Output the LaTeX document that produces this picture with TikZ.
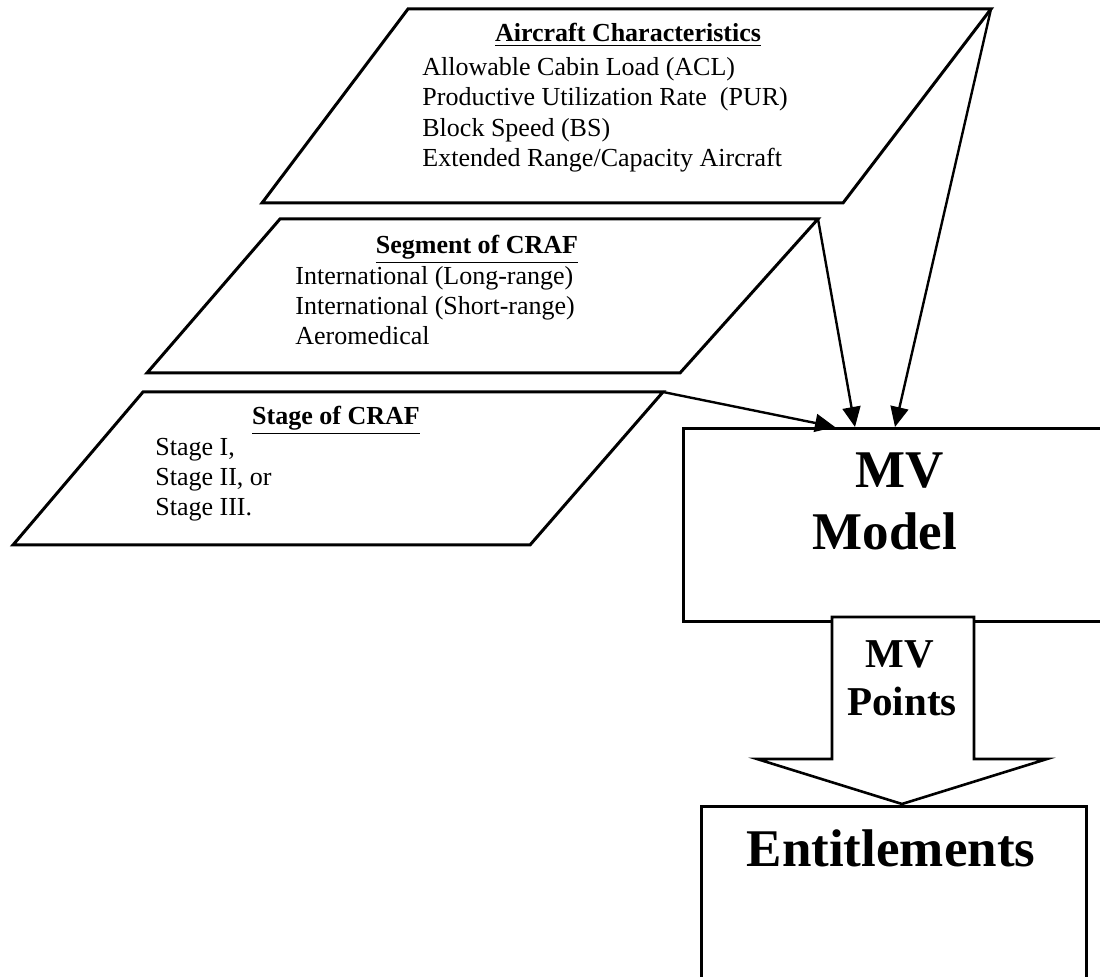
\documentclass[tikz,border=0pt]{standalone}
\usepackage{fontspec}
\setmainfont{Liberation Serif}
\usetikzlibrary{arrows.meta}
\begin{document}
\begin{tikzpicture}[x=0.5pt,y=-0.5pt,
  shapeline/.style={line width=1.5pt, line join=miter},
  conn/.style={line width=1.2pt, -{Triangle[length=10pt,width=9pt]}},
  item/.style={anchor=base west, inner sep=0pt, font=\fontsize{13}{15}\selectfont},
  ttl/.style={anchor=base, inner sep=0pt, font=\fontsize{13}{15}\selectfont\bfseries},
  big/.style={anchor=base, inner sep=0pt, font=\fontsize{26.5}{30}\selectfont\bfseries},
  mid/.style={anchor=base, inner sep=0pt, font=\fontsize{20.5}{24}\selectfont\bfseries},
  box/.style={draw, line width=1.3pt, inner sep=0pt, anchor=north west}]
\useasboundingbox (0,0) rectangle (1100,977);
\clip (0,0) rectangle (1100,977);

% corner coordinates of the input parallelograms
\coordinate (ac-tl) at (408,9);   \coordinate (ac-tr) at (991,9);
\coordinate (ac-br) at (843,203); \coordinate (ac-bl) at (262,203);
\coordinate (sg-tl) at (280,219); \coordinate (sg-tr) at (818,219);
\coordinate (sg-br) at (680,373); \coordinate (sg-bl) at (147,373);
\coordinate (st-tl) at (143,392); \coordinate (st-tr) at (663,392);
\coordinate (st-br) at (530,545); \coordinate (st-bl) at (13,545);

\draw[shapeline] (ac-tl) -- (ac-tr) -- (ac-br) -- (ac-bl) -- cycle;
\draw[shapeline] (sg-tl) -- (sg-tr) -- (sg-br) -- (sg-bl) -- cycle;
\draw[shapeline] (st-tl) -- (st-tr) -- (st-br) -- (st-bl) -- cycle;

% texts of the parallelograms
\node[ttl] (ac-title) at (628,42) {\underline{Aircraft Characteristics}};
\node[item] (ac-1) at (422,76) {Allowable Cabin Load (ACL)};
\node[item] (ac-2) at (422,106) {Productive Utilization Rate\ \ (PUR)};
\node[item] (ac-3) at (422,137) {Block Speed (BS)};
\node[item] (ac-4) at (422,167) {Extended Range/Capacity Aircraft};

\node[ttl] (sg-title) at (477,254) {\underline{Segment of CRAF}};
\node[item] (sg-1) at (295,285) {International (Long-range)};
\node[item] (sg-2) at (295,315) {International (Short-range)};
\node[item] (sg-3) at (295,345) {Aeromedical};

\node[ttl] (st-title) at (336,425) {\underline{Stage of CRAF}};
\node[item] (st-1) at (155,456) {Stage I,};
\node[item] (st-2) at (155,486) {Stage II, or};
\node[item] (st-3) at (155,516) {Stage III.};

% MV Model box
\node[box, minimum width=219pt, minimum height=96.5pt] (mv) at (682,427) {};
\node[big] (mv-t1) at (900,488) {MV};
\node[big] (mv-t2) at (885,550) {Model};

% connectors
\coordinate (in-st) at (835,427);
\coordinate (in-sg) at (855,427);
\coordinate (in-ac) at (895,427);
\draw[conn] (st-tr) -- (in-st);
\draw[conn] (sg-tr) -- (in-sg);
\draw[conn] (ac-tr) -- (in-ac);

% Entitlements box
\node[box, minimum width=192.5pt, minimum height=95pt] (ent) at (700,805) {};
\node[big] (ent-t) at (891,867) {Entitlements};

% block arrow MV Points
\draw[shapeline, line width=1.3pt, fill=white] (832,617) -- (974,617) -- (974,759) -- (1047,759)
  -- (902,804) -- (757,759) -- (832,759) -- cycle;
\node[mid] (pts-1) at (900,668) {MV};
\node[mid] (pts-2) at (902,716) {Points};
\end{tikzpicture}
\end{document}
